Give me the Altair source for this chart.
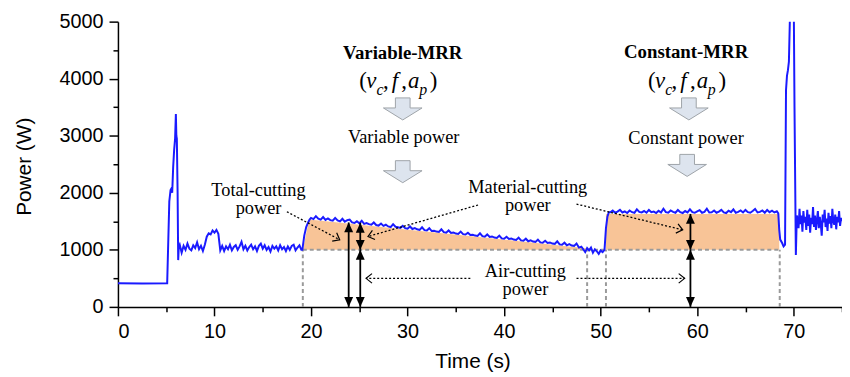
import math
import altair as alt
import pandas as pd

# ---------------- power trace ----------------
start_t = [0, 2.5, 5.1, 5.22, 5.32, 5.45, 5.55, 5.62, 5.72, 5.82, 5.92, 6.0, 6.05, 6.1, 6.18, 6.24, 6.3]
start_p = [415, 410, 415, 1200, 1850, 2050, 2080, 2000, 2450, 2750, 2950, 3380, 3000, 2950, 2000, 820, 1050]

n1 = [1090, 950, 1070, 1000, 1110, 1020, 990, 1080, 1030, 1130, 1010, 1070, 980, 1090]           # 6.4 .. 9.0
bump = [1230, 1290, 1270, 1340, 1300, 1350, 1280]                                                 # 9.2 .. 10.4
n2 = [990, 1070, 980, 1060, 1010, 1090, 990, 1050, 1080, 1000, 1060, 1140, 1010, 1070, 990,
      1050, 1090, 1010, 1060, 980, 1070, 1110, 1020, 1080, 1000, 1050, 970, 1070, 1020, 1060,
      990, 1080, 1010, 1050, 980, 1060, 1000, 1070, 1090, 990, 1040, 1080, 1000]                 # 10.6 .. 19.0
rise1_t = [19.1, 19.3, 19.5, 19.7, 19.85]
rise1_p = [1000, 1250, 1400, 1480, 1530]
n3 = [1560, 1540, 1590, 1545, 1530, 1575, 1525, 1550, 1520, 1510, 1560, 1515, 1500, 1545, 1495, 1520,
      1530, 1480, 1470, 1500, 1465, 1510, 1455, 1470, 1450, 1440, 1480, 1435, 1425, 1460, 1420, 1440,
      1410, 1400, 1450, 1405, 1395, 1385, 1420, 1380, 1370, 1410, 1365, 1380, 1360, 1350, 1395, 1345,
      1340, 1380, 1330, 1335, 1320, 1315, 1360, 1310, 1300, 1340, 1295, 1305, 1285, 1280, 1320, 1275,
      1270, 1300, 1260, 1265, 1250, 1245, 1290, 1240, 1230, 1270, 1225, 1235, 1215, 1210, 1250, 1200,
      1195, 1230, 1190, 1200, 1180, 1175, 1215, 1165, 1160, 1195, 1150, 1165, 1145, 1140, 1180, 1130,
      1125, 1160, 1120, 1130, 1110, 1105, 1150, 1095, 1090, 1125, 1080, 1100, 1075, 1070, 1110, 1040,
      1055]                                                                                        # 20.0 .. 48.0
n4 = [1010, 960, 1030, 990, 1040, 950, 1010, 975, 930, 990, 960]                                   # 48.2 .. 50.2
rise2_t = [50.4, 50.55, 50.7, 50.85]
rise2_p = [1000, 1380, 1580, 1660]
n5 = [1660, 1690, 1650, 1670, 1700, 1655, 1675, 1645, 1690, 1660, 1650, 1710, 1665, 1655, 1680, 1650,
      1700, 1660, 1670, 1645, 1685, 1655, 1720, 1660, 1650, 1690, 1665, 1650, 1700, 1660, 1645, 1680,
      1655, 1710, 1660, 1650, 1675, 1695, 1650, 1665, 1720, 1655, 1660, 1690, 1650, 1670, 1700, 1655,
      1645, 1685, 1660, 1710, 1650, 1665, 1690, 1655, 1700, 1660, 1650, 1680, 1715, 1655, 1665, 1690,
      1650, 1700, 1660, 1685, 1655, 1675]                                                          # 51.0 .. 68.25
drop_t = [68.4, 68.5, 68.6, 68.8, 68.95, 69.1, 69.2, 69.3, 69.4, 69.5, 69.65, 70.0, 70.08, 70.22, 70.32]
drop_p = [1640, 1350, 1180, 1120, 1060, 1090, 3800, 4050, 4150, 4300, 5400, 5400, 3500, 910, 1600]
n6 = [1550, 1380, 1720, 1450, 1600, 1320, 1680, 1480, 1580, 1350, 1700, 1420, 1620, 1300, 1560, 1450,
      1750, 1400, 1600, 1350, 1520, 1680, 1380, 1580, 1450, 1250, 1620, 1480, 1700, 1400, 1550, 1330,
      1650, 1460, 1590, 1380, 1720, 1500, 1440, 1620, 1360, 1580, 1480, 1680, 1420, 1560, 1500]  # 70.4 .. 75.0


def seg(start, step, vals):
    return [(round(start + i * step, 3), v) for i, v in enumerate(vals)]


pts = (list(zip(start_t, start_p)) + seg(6.4, 0.2, n1) + seg(9.2, 0.2, bump) + seg(10.6, 0.2, n2)
       + list(zip(rise1_t, rise1_p)) + seg(20.0, 0.25, n3) + seg(48.2, 0.2, n4)
       + list(zip(rise2_t, rise2_p)) + seg(51.0, 0.25, n5) + list(zip(drop_t, drop_p))
       + seg(70.4, 0.1, n6))
trace = pd.DataFrame(pts, columns=["t", "p"])

# ---------------- shaded regions ----------------
var_t = [19.15, 19.8, 48.5]
var_top = [1000, 1530, 1030]
const_t = [50.55, 68.5]
const_top = [1630, 1630]
air_level = 1000
area_var = pd.DataFrame({"t": var_t, "p": var_top, "base": air_level})
area_const = pd.DataFrame({"t": const_t, "p": const_top, "base": air_level})

# gray dashed guide lines
guide_x = [19.15, 48.6, 50.55, 68.55]
guide_h = pd.DataFrame({"t": [19.15], "t2": [68.55], "p": [air_level]})
guide_v = pd.DataFrame({"t": guide_x, "p": 0, "p2": air_level})

# black double arrows (x, from, to)
arr_x = [23.9, 25.1, 25.1, 59.3, 59.3]
arr_lo = [0, 1000, 0, 1000, 0]
arr_hi = [1480, 1475, 1000, 1630, 1000]
arrows = pd.DataFrame({"t": arr_x, "p": arr_lo, "hi": arr_hi})
heads_up = pd.DataFrame({"t": arr_x, "p": arr_hi})
heads_dn = pd.DataFrame({"t": arr_x, "p": arr_lo})

# dotted leader lines (start -> tip)
lead_t1 = [17.5, 37.3, 47.5, 36.5, 47.5]
lead_p1 = [1668, 1786, 1802, 500, 500]
lead_t2 = [22.97, 25.9, 58.5, 25.7, 58.7]
lead_p2 = [1177, 1234, 1350, 500, 500]
W, H = 731, 288
SX, SY = W / 75, H / 5000
angles = [math.degrees(math.atan2(-(b2 - b1) * SY, (a2 - a1) * SX)) % 360
          for a1, b1, a2, b2 in zip(lead_t1, lead_p1, lead_t2, lead_p2)]
leaders = pd.DataFrame({"t": lead_t1, "p": lead_p1, "t2": lead_t2, "p2": lead_p2})
tips = pd.DataFrame({"t": lead_t2, "p": lead_p2, "ang": angles})

# annotation texts
lab_text = ["Total-cutting", "power", "Material-cutting", "power", "Air-cutting", "power",
            "Variable power", "Constant power"]
lab_t = [14.56, 14.56, 42.45, 42.45, 42.2, 42.2, 29.6, 58.85]
lab_p = [2045, 1725, 2108, 1788, 626, 306, 2972, 2954]
labels = pd.DataFrame({"txt": lab_text, "t": lab_t, "p": lab_p})
bold_text = ["Variable-MRR", "Constant-MRR"]
bold_t = [29.5, 58.85]
bold_p = [4449, 4466]
bolds = pd.DataFrame({"txt": bold_text, "t": bold_t, "p": bold_p})

# block arrows
blk_t = [29.5, 29.5, 59.14, 58.96]
blk_p = [3470, 2370, 3470, 2480]
blocks = pd.DataFrame({"t": blk_t, "p": blk_p})

# (v_c, f, a_p) pieces: text, offset (s), style
eq_start = [25.0, 54.9]
eq_main_base = 3830
eq_sub_base = 3720
pieces = [("(", 0.0, "up"), ("v", 0.72, "it"), ("c", 1.78, "sub"), (",", 2.45, "up"), ("f", 3.35, "it"),
          (",", 4.35, "up"), ("a", 5.05, "it"), ("p", 6.2, "sub"), (")", 7.3, "up")]
eq_rows = []
for s in eq_start:
    for txt, off, sty in pieces:
        eq_rows.append({"txt": txt, "t": s + off, "p": eq_sub_base if sty == "sub" else eq_main_base,
                        "sty": sty})
eq = pd.DataFrame(eq_rows)

# ---------------- chart ----------------
xs = alt.Scale(domain=[0, 75], nice=False)
ys = alt.Scale(domain=[0, 5000], nice=False)
SANS = "Liberation Sans"
SERIF = "Liberation Serif"

x_axis = alt.Axis(values=list(range(0, 76, 5)), format="d",
                  labelExpr="datum.value % 10 === 0 ? datum.label : ''",
                  tickSize={"condition": {"test": "datum.value % 10 === 0", "value": 9}, "value": 5},
                  title="Time (s)", titleX=358, titleY=55, titleBaseline="middle", titleAlign="center")
y_axis = alt.Axis(values=list(range(0, 5001, 500)), format="d",
                  labelExpr="datum.value % 1000 === 0 ? datum.label : ''",
                  tickSize={"condition": {"test": "datum.value % 1000 === 0", "value": 9}, "value": 5},
                  title="Power (W)", titleX=-94, titleY=146, titleBaseline="middle", titleAlign="center",
                  titleAngle=-90)


def X(f="t"):
    return alt.X(f + ":Q", scale=xs, axis=x_axis)


def Y(f="p"):
    return alt.Y(f + ":Q", scale=ys, axis=y_axis)


o1 = alt.Chart(area_var).mark_area(color="#f8c497", opacity=1).encode(
    x=X(), y=Y(), y2="base:Q")
o2 = alt.Chart(area_const).mark_area(color="#f8c497", opacity=1).encode(
    x=X(), y=Y(), y2="base:Q")

gh = alt.Chart(guide_h).mark_rule(color="#9a9a9a", strokeWidth=2, strokeDash=[4, 3]).encode(
    x=X(), x2="t2:Q", y=Y())
gv = alt.Chart(guide_v).mark_rule(color="#9a9a9a", strokeWidth=2, strokeDash=[4, 3]).encode(
    x=X(), y=Y(), y2="p2:Q")

line = alt.Chart(trace).mark_line(color="#1a1aff", strokeWidth=2, clip=True).encode(
    x=X(), y=Y())

ar = alt.Chart(arrows).mark_rule(color="black", strokeWidth=1.8).encode(x=X(), y=Y(), y2="hi:Q")
hu = alt.Chart(heads_up).mark_point(shape="M0,0L-0.45,1L0.45,1Z", filled=True, fill="black",
                                    strokeWidth=0, size=400, opacity=1).encode(x=X(), y=Y())
hd = alt.Chart(heads_dn).mark_point(shape="M0,0L-0.45,-1L0.45,-1Z", filled=True, fill="black",
                                    strokeWidth=0, size=400, opacity=1).encode(x=X(), y=Y())

ld = alt.Chart(leaders).mark_rule(color="black", strokeWidth=1.3, strokeDash=[2, 2]).encode(
    x=X(), y=Y(), x2="t2:Q", y2="p2:Q")
chev = alt.Chart(tips).mark_point(shape="M-1,-0.8L0,0L-1,0.8", filled=False, stroke="black",
                                  strokeWidth=1.2, size=144, opacity=1).encode(
    x=X(), y=Y(), angle=alt.Angle("ang:Q", scale=None))

blk = alt.Chart(blocks).mark_point(
    shape="M-0.38,-0.57L0.38,-0.57L0.38,-0.05L1,-0.05L0,0.57L-1,-0.05L-0.38,-0.05Z",
    filled=True, fill="#dde4ee", stroke="#9ea3a8", strokeWidth=1, size=1521, opacity=1).encode(
    x=X(), y=Y())

txt = alt.Chart(labels).mark_text(font=SERIF, fontSize=18.5, color="black", align="center",
                                  baseline="middle").encode(x=X(), y=Y(), text="txt:N")
btxt = alt.Chart(bolds).mark_text(font=SERIF, fontSize=19, fontWeight="bold", color="black",
                                  align="center", baseline="middle").encode(x=X(), y=Y(), text="txt:N")
eq_up = alt.Chart(eq).transform_filter("datum.sty === 'up'").mark_text(
    font=SERIF, fontSize=23, color="black", align="left", baseline="alphabetic").encode(
    x=X(), y=Y(), text="txt:N")
eq_it = alt.Chart(eq).transform_filter("datum.sty === 'it'").mark_text(
    font=SERIF, fontSize=23, fontStyle="italic", color="black", align="left",
    baseline="alphabetic").encode(x=X(), y=Y(), text="txt:N")
eq_sub = alt.Chart(eq).transform_filter("datum.sty === 'sub'").mark_text(
    font=SERIF, fontSize=16, fontStyle="italic", color="black", align="left",
    baseline="alphabetic").encode(x=X(), y=Y(), text="txt:N")

chart = alt.layer(o1, o2, gh, gv, line, ar, hu, hd, ld, chev, blk, txt, btxt, eq_up, eq_it, eq_sub).properties(
    width=W, height=H,
    autosize=alt.AutoSizeParams(type="none"),
    padding={"left": 111, "top": 12, "right": 0, "bottom": 68},
).configure_view(stroke=None).configure_axis(
    grid=False, domainColor="black", domainWidth=1.5, tickColor="black", tickWidth=1.5,
    labelFont=SANS, labelFontSize=20, labelColor="black", labelPadding=6,
    titleFont=SANS, titleFontSize=21, titleFontWeight="normal", titleColor="black",
)

chart.save("out.html", embed_options={"renderer": "svg", "actions": False})
